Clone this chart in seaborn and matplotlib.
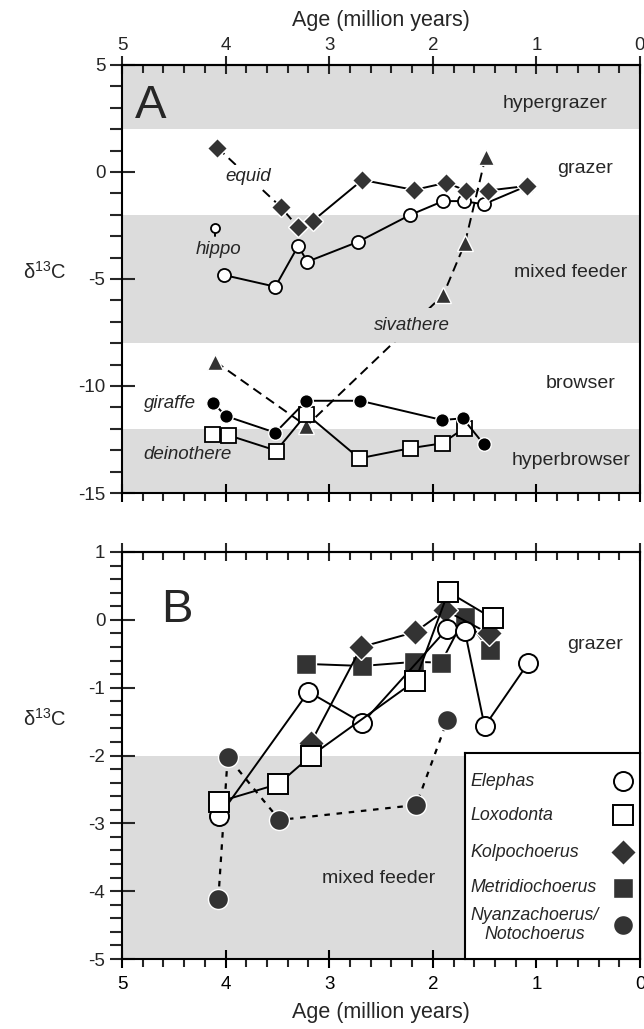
import seaborn as sns
import matplotlib.pyplot as plt
from matplotlib.ticker import MultipleLocator

# ---------------- panel A: age (Myr) and d13C (permil) ----------------
equid_age = [4.08, 3.47, 3.30]
equid_d13c = [1.14, -1.62, -2.58]

kolpo_a_age = [3.16, 2.68, 2.18, 1.87, 1.68, 1.47, 1.09]
kolpo_a_d13c = [-2.29, -0.37, -0.84, -0.50, -0.87, -0.87, -0.65]

elephas_a_age = [4.02, 3.52, 3.30, 3.21, 2.72, 2.22, 1.90, 1.70, 1.51, 1.09]
elephas_a_d13c = [-4.81, -5.36, -3.46, -4.19, -3.26, -2.01, -1.36, -1.36, -1.51, -0.65]

hippo_age = [4.10]
hippo_d13c = [-2.6]
hippo_stem_age = [4.10, 4.10]
hippo_stem_d13c = [-2.75, -3.0]

sivathere_age = [4.10, 3.22, 1.90, 1.69, 1.49]
sivathere_d13c = [-8.86, -11.87, -5.75, -3.33, 0.72]

giraffe_age = [4.12, 4.00, 3.52, 3.22, 2.70, 1.91, 1.71, 1.51]
giraffe_d13c = [-10.78, -11.40, -12.18, -10.69, -10.69, -11.59, -11.51, -12.71]

deino_age = [4.13, 3.98, 3.51, 3.22, 2.71, 2.22, 1.91, 1.70]
deino_d13c = [-12.26, -12.29, -13.02, -11.31, -13.38, -12.91, -12.68, -11.98]

# diet zones in panel A (lower, upper)
zones_a = [(2, 5), (-8, -2), (-15, -12)]
zone_names_a = ["hypergrazer", "grazer", "mixed feeder", "browser", "hyperbrowser"]
zone_y_a = [3.2, 0.15, -4.7, -9.9, -13.5]
zone_x_a = [0.82, 0.53, 0.67, 0.57, 0.67]

# ---------------- panel B ----------------
elephas_age = [4.06, 3.20, 2.68, 1.86, 1.69, 1.50, 1.08]
elephas_d13c = [-2.89, -1.06, -1.52, -0.13, -0.17, -1.57, -0.64]

loxo_age = [4.06, 3.49, 3.18, 2.17, 1.85, 1.42]
loxo_d13c = [-2.68, -2.42, -2.01, -0.90, 0.41, 0.02]

kolpo_age = [3.18, 2.69, 2.17, 1.88, 1.46]
kolpo_d13c = [-1.82, -0.40, -0.18, 0.14, -0.20]

metri_age = [3.22, 2.68, 2.18, 1.92, 1.69, 1.45]
metri_d13c = [-0.65, -0.68, -0.62, -0.63, 0.04, -0.45]

nyanza_age = [4.07, 3.98, 3.48, 2.16, 1.86]
nyanza_d13c = [-4.11, -2.02, -2.95, -2.73, -1.48]

zones_b = [(-5, -2)]

legend_labels = ["Elephas", "Loxodonta", "Kolpochoerus", "Metridiochoerus",
                 "Nyanzachoerus/\nNotochoerus"]

DARK = "#333333"
GRAY = "#dcdcdc"

sns.set_style("ticks")
plt.rcParams["font.family"] = ["Liberation Sans", "DejaVu Sans"]
plt.rcParams["mathtext.fontset"] = "custom"
plt.rcParams["mathtext.rm"] = "Liberation Sans"
plt.rcParams["axes.unicode_minus"] = False
plt.rcParams["axes.linewidth"] = 1.5
plt.rcParams["axes.edgecolor"] = "black"


def series(ax, age, d13c, marker, ms, face, edge, ls="-", mew=1.0, lw=1.4):
    sns.lineplot(x=age, y=d13c, ax=ax, sort=False, estimator=None,
                 color="black", linewidth=lw, linestyle=ls,
                 marker=marker, markersize=ms, markerfacecolor=face,
                 markeredgecolor=edge, markeredgewidth=mew)


def style_axes(ax, top_labels):
    ax.set_xlim(5, 0)
    ax.xaxis.set_major_locator(MultipleLocator(1))
    ax.xaxis.set_minor_locator(MultipleLocator(0.2))
    ax.tick_params(axis="x", which="major", direction="inout", length=13,
                   width=1.5, labelsize=13.5, pad=6, colors="black")
    ax.tick_params(axis="x", which="minor", direction="out", length=6, width=1.5)
    ax.tick_params(axis="y", which="major", direction="inout", length=18,
                   width=1.5, labelsize=13.5, pad=3)
    ax.tick_params(axis="y", which="minor", direction="out", length=8.5, width=1.5)
    sec = ax.secondary_xaxis("top")
    sec.xaxis.set_major_locator(MultipleLocator(1))
    sec.xaxis.set_minor_locator(MultipleLocator(0.2))
    sec.tick_params(which="major", direction="inout", length=13, width=1.5,
                    labelsize=13.5, pad=1.5)
    sec.tick_params(which="minor", direction="in", length=6, width=1.5)
    sec.spines["top"].set_linewidth(1.5)
    if top_labels:
        ax.tick_params(axis="x", labelbottom=False)
        sec.set_xlabel("Age (million years)", fontsize=15.5, labelpad=8)
    else:
        sec.tick_params(labeltop=False)
        ax.set_xlabel("Age (million years)", fontsize=15.5, labelpad=6)
    for s in ax.spines.values():
        s.set_linewidth(1.5)
    return sec


fig = plt.figure(figsize=(6.44, 10.29), dpi=100)
axA = fig.add_axes([122 / 644, 1 - 493 / 1029, 518 / 644, 428 / 1029])
axB = fig.add_axes([122 / 644, 1 - 959 / 1029, 518 / 644, 407 / 1029])

# ---- panel A ----
for lo, hi in zones_a:
    axA.axhspan(lo, hi, color=GRAY, lw=0, zorder=0)

series(axA, elephas_a_age, elephas_a_d13c, "o", 9.4, "white", "black", mew=1.3)
series(axA, kolpo_a_age, kolpo_a_d13c, "D", 10, DARK, "white")
series(axA, equid_age, equid_d13c, "D", 10, DARK, "white", ls=(0, (5, 3)))
series(axA, hippo_stem_age, hippo_stem_d13c, None, 0, "white", "black")
series(axA, hippo_age, hippo_d13c, "o", 6.5, "white", "black", mew=1.3)
series(axA, sivathere_age, sivathere_d13c, "^", 11, DARK, "white", ls=(0, (5, 3)))
series(axA, deino_age, deino_d13c, "s", 10.8, "white", "black", mew=1.3)
series(axA, giraffe_age, giraffe_d13c, "o", 9.8, "black", "white")

axA.set_ylim(-15, 5)
axA.yaxis.set_major_locator(MultipleLocator(5))
axA.yaxis.set_minor_locator(MultipleLocator(1))
style_axes(axA, top_labels=True)
axA.set_ylabel("δ$^{13}$C", rotation=0, fontsize=14.5, ha="center", va="center")
axA.yaxis.set_label_coords(-0.149, 0.516)

for name, x, y in zip(zone_names_a, zone_x_a, zone_y_a):
    axA.text(x, y, name, fontsize=14, ha="center", va="center")

axA.text(4.72, 3.1, "A", fontsize=34, ha="center", va="center")
axA.text(3.78, -0.22, "equid", fontsize=13.5, style="italic", ha="center",
         va="center", bbox=dict(facecolor="white", edgecolor="none", pad=2))
axA.text(4.07, -3.64, "hippo", fontsize=13.5, style="italic", ha="center", va="center")
axA.text(4.54, -10.84, "giraffe", fontsize=13.5, style="italic", ha="center", va="center")
axA.text(4.37, -13.2, "deinothere", fontsize=13.5, style="italic", ha="center", va="center")
axA.text(2.20, -7.15, "sivathere", fontsize=13.5, style="italic", ha="center",
         va="center", bbox=dict(facecolor=GRAY, edgecolor="none", pad=6))

# ---- panel B ----
for lo, hi in zones_b:
    axB.axhspan(lo, hi, color=GRAY, lw=0, zorder=0)

series(axB, nyanza_age, nyanza_d13c, "o", 14.4, DARK, "white", ls=(0, (2.5, 3)), lw=1.6)
series(axB, metri_age, metri_d13c, "s", 13.7, DARK, "white")
series(axB, kolpo_age, kolpo_d13c, "D", 13.7, DARK, "white")
series(axB, elephas_age, elephas_d13c, "o", 13.7, "white", "black", mew=1.4)
series(axB, loxo_age, loxo_d13c, "s", 14.4, "white", "black", mew=1.4)

axB.set_ylim(-5, 1)
axB.yaxis.set_major_locator(MultipleLocator(1))
axB.yaxis.set_minor_locator(MultipleLocator(0.2))
style_axes(axB, top_labels=False)
axB.set_ylabel("δ$^{13}$C", rotation=0, fontsize=14.5, ha="center", va="center")
axB.yaxis.set_label_coords(-0.149, 0.59)

axB.text(4.47, 0.14, "B", fontsize=34, ha="center", va="center")
axB.text(0.43, -0.37, "grazer", fontsize=14, ha="center", va="center")
axB.text(2.52, -3.81, "mixed feeder", fontsize=14, ha="center", va="center")

# legend box: labels left-aligned, symbols on the right
leg_ax = axB.inset_axes([0.662, 0.0, 0.338, 0.506])
leg_ax.set_facecolor("white")
leg_ax.set_xticks([])
leg_ax.set_yticks([])
for s in leg_ax.spines.values():
    s.set_linewidth(1.5)
    s.set_color("black")
leg_rows = [0.864, 0.699, 0.519, 0.345, 0.165]
leg_styles = [("o", 13.7, "white", "black", 1.4),
              ("s", 14.4, "white", "black", 1.4),
              ("D", 13.7, DARK, "white", 1.0),
              ("s", 13.7, DARK, "white", 1.0),
              ("o", 14.4, DARK, "white", 1.0)]
for label, yrow, (mk, ms, fc, ec, mw) in zip(legend_labels, leg_rows, leg_styles):
    leg_ax.text(0.03, yrow, label, fontsize=12.8, style="italic", ha="left",
                va="center", multialignment="center")
    series(leg_ax, [0.903], [yrow], mk, ms, fc, ec, mew=mw)
leg_ax.set_xlim(0, 1)
leg_ax.set_ylim(0, 1)

fig.savefig("out.png", dpi=100)
